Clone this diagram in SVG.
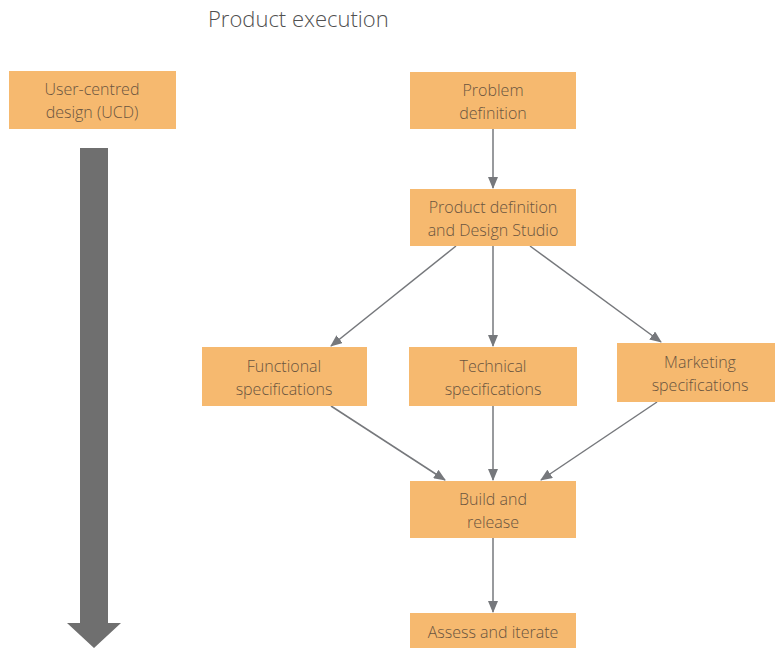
<svg xmlns="http://www.w3.org/2000/svg" width="775" height="648" viewBox="0 0 775 648">
  <defs>
    <style>
      .box { fill: #f6b96f; }
      .lbl { font-family: "Open Sans", "Liberation Sans", sans-serif; font-weight: 300; font-size: 16px; fill: #6a5540; text-anchor: middle; }
      .title { font-family: "Open Sans", "Liberation Sans", sans-serif; font-weight: 300; font-size: 22px; fill: #505050; }
      .edge { stroke: #76787c; stroke-width: 1.5; fill: none; marker-end: url(#head); }
    </style>
    <marker id="head" viewBox="0 0 12 10" refX="11" refY="5" markerWidth="12" markerHeight="10" markerUnits="userSpaceOnUse" orient="auto">
      <path d="M0,0 L12,5 L0,10 z" fill="#76787c"/>
    </marker>
  </defs>
  <rect width="775" height="648" fill="#ffffff"/>

  <text class="title" x="208" y="27">Product execution</text>

  <g id="ucd">
    <rect class="box" x="9" y="71" width="167" height="58"/>
    <text class="lbl" x="92" y="95">User-centred</text>
    <text class="lbl" x="92" y="118">design (UCD)</text>
  </g>

  <g id="timeline">
    <path d="M80,148 H108 V623 H121 L94,648 L67,623 H80 Z" fill="#6f6f6f"/>
  </g>

  <g id="connectors">
    <line class="edge" x1="493" y1="129" x2="493" y2="188"/>
    <line class="edge" x1="456" y1="246" x2="331" y2="346"/>
    <line class="edge" x1="493" y1="246" x2="493" y2="346"/>
    <line class="edge" x1="530" y1="246" x2="661" y2="342"/>
    <line class="edge" x1="331" y1="406" x2="445" y2="480"/>
    <line class="edge" x1="493" y1="406" x2="493" y2="480"/>
    <line class="edge" x1="657" y1="402" x2="541" y2="480"/>
    <line class="edge" x1="493" y1="538" x2="493" y2="612"/>
  </g>

  <g id="problem">
    <rect class="box" x="410" y="72" width="166" height="57"/>
    <text class="lbl" x="493" y="96">Problem</text>
    <text class="lbl" x="493" y="119">definition</text>
  </g>

  <g id="product">
    <rect class="box" x="410" y="189" width="166" height="57"/>
    <text class="lbl" x="493" y="213">Product definition</text>
    <text class="lbl" x="493" y="236">and Design Studio</text>
  </g>

  <g id="functional">
    <rect class="box" x="202" y="347" width="165" height="59"/>
    <text class="lbl" x="284" y="372">Functional</text>
    <text class="lbl" x="284" y="395">specifications</text>
  </g>

  <g id="technical">
    <rect class="box" x="409" y="347" width="168" height="59"/>
    <text class="lbl" x="493" y="372">Technical</text>
    <text class="lbl" x="493" y="395">specifications</text>
  </g>

  <g id="marketing">
    <rect class="box" x="617" y="343" width="158" height="59"/>
    <text class="lbl" x="700" y="368">Marketing</text>
    <text class="lbl" x="700" y="391">specifications</text>
  </g>

  <g id="build">
    <rect class="box" x="410" y="481" width="166" height="57"/>
    <text class="lbl" x="493" y="505">Build and</text>
    <text class="lbl" x="493" y="528">release</text>
  </g>

  <g id="assess">
    <rect class="box" x="410" y="613" width="166" height="35"/>
    <text class="lbl" x="493" y="638">Assess and iterate</text>
  </g>
</svg>
